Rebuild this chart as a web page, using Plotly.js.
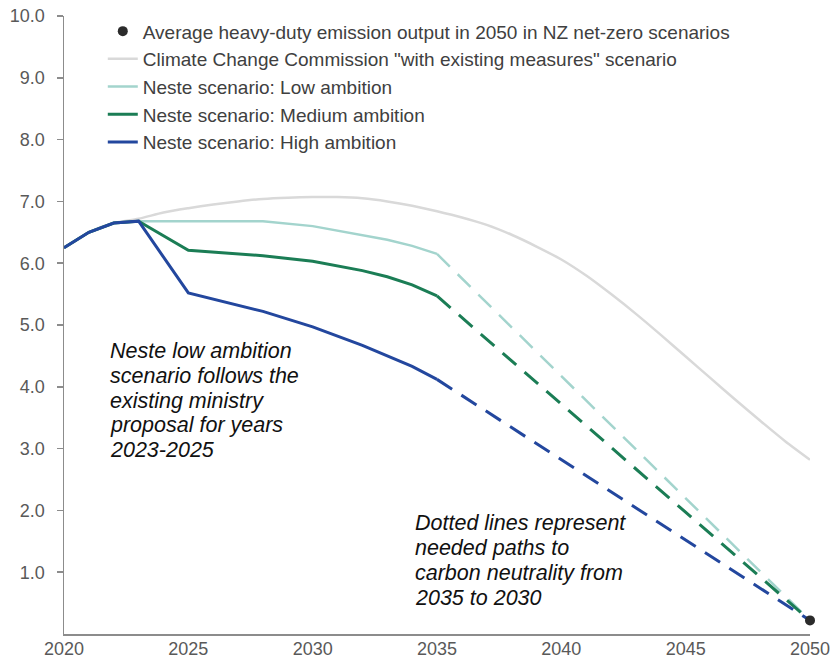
<!DOCTYPE html>
<html>
<head>
<meta charset="utf-8">
<script src="https://cdn.plot.ly/plotly-3.0.1.min.js"></script>
<style>html,body{margin:0;padding:0;background:#fff;}#chart{width:831px;height:662px;}</style>
</head>
<body>
<div id="chart"></div>
<script>
// Climate Change Commission "with existing measures"
const cccYears = [2020, 2021, 2022, 2023, 2024, 2025, 2026, 2027, 2028, 2029, 2030, 2031, 2032, 2033, 2034, 2035, 2036, 2037, 2038, 2039, 2040, 2041, 2042, 2043, 2044, 2045, 2046, 2047, 2048, 2049, 2050];
const cccVals  = [6.25, 6.5, 6.65, 6.72, 6.82, 6.89, 6.95, 7.0, 7.04, 7.06, 7.07, 7.07, 7.05, 7.0, 6.93, 6.84, 6.74, 6.62, 6.46, 6.27, 6.06, 5.8, 5.5, 5.18, 4.84, 4.49, 4.14, 3.79, 3.45, 3.12, 2.82];

// Neste scenarios (solid part)
const lowYears = [2020, 2021, 2022, 2023, 2025, 2028, 2030, 2033, 2034, 2035];
const lowVals  = [6.25, 6.5, 6.65, 6.68, 6.68, 6.68, 6.6, 6.38, 6.28, 6.15];
const medYears = [2020, 2021, 2022, 2023, 2025, 2028, 2030, 2032, 2033, 2034, 2035];
const medVals  = [6.25, 6.5, 6.65, 6.68, 6.21, 6.12, 6.03, 5.88, 5.78, 5.65, 5.47];
const highYears = [2020, 2021, 2022, 2023, 2025, 2028, 2030, 2032, 2034, 2035];
const highVals  = [6.25, 6.5, 6.65, 6.68, 5.52, 5.22, 4.97, 4.67, 4.33, 4.12];

// Needed paths (dashed)
const pathYears = [2035, 2050];
const lowPath  = [6.15, 0.22];
const medPath  = [5.47, 0.22];
const highPath = [4.12, 0.22];

// Target point
const targetYear = [2050];
const targetVal = [0.22];

const names = [
  'Average heavy-duty emission output in 2050 in NZ net-zero scenarios',
  'Climate Change Commission "with existing measures" scenario',
  'Neste scenario: Low ambition',
  'Neste scenario: Medium ambition',
  'Neste scenario: High ambition'
];
const note1 = ['Neste low ambition', 'scenario follows the', 'existing ministry', 'proposal for years', '2023-2025'];
const note2 = ['Dotted lines represent', 'needed paths to', 'carbon neutrality from', '2035 to 2030'];

const xTicks = [2020, 2025, 2030, 2035, 2040, 2045, 2050];
const yTicks = [1, 2, 3, 4, 5, 6, 7, 8, 9, 10];

const cGray = '#d9d9d9', cLow = '#a3d4cd', cMed = '#1b7d55', cHigh = '#23479e';
const dash = '18px,11px';

const traces = [
  {x: cccYears, y: cccVals, mode: 'lines', name: names[1], legendrank: 2, legendgroup: 'g2',
   line: {color: cGray, width: 2.5, shape: 'spline', smoothing: 0.8}},
  {x: lowYears, y: lowVals, mode: 'lines', name: names[2], legendrank: 3, legendgroup: 'g3',
   line: {color: cLow, width: 2.5}},
  {x: pathYears, y: lowPath, mode: 'lines', showlegend: false, legendgroup: 'g3',
   line: {color: cLow, width: 2.5, dash: dash}},
  {x: medYears, y: medVals, mode: 'lines', name: names[3], legendrank: 4, legendgroup: 'g4',
   line: {color: cMed, width: 3}},
  {x: pathYears, y: medPath, mode: 'lines', showlegend: false, legendgroup: 'g4',
   line: {color: cMed, width: 3, dash: dash}},
  {x: highYears, y: highVals, mode: 'lines', name: names[4], legendrank: 5, legendgroup: 'g5',
   line: {color: cHigh, width: 3}},
  {x: pathYears, y: highPath, mode: 'lines', showlegend: false, legendgroup: 'g5',
   line: {color: cHigh, width: 3, dash: dash}},
  {x: targetYear, y: targetVal, mode: 'markers', name: names[0], legendrank: 1, legendgroup: 'g1',
   cliponaxis: false, marker: {color: '#2b2b2b', size: 10}}
];

// plot area in pixels: x 64..810, y 16..634
const pyToPaper = py => (634 - py) / 618;
const pxToPaper = px => (px - 64) / 746;
const annFont = {size: 21.5, color: '#111', family: 'Liberation Sans, Arial, sans-serif'};
const annotations = [];
note1.forEach((t, i) => annotations.push({xref: 'paper', yref: 'paper', x: pxToPaper(108), y: pyToPaper(351 + i * 24.8),
  xanchor: 'left', yanchor: 'middle', align: 'left', showarrow: false, font: annFont, text: '<i>' + t + '</i>'}));
note2.forEach((t, i) => annotations.push({xref: 'paper', yref: 'paper', x: pxToPaper(413), y: pyToPaper(523 + i * 25),
  xanchor: 'left', yanchor: 'middle', align: 'left', showarrow: false, font: annFont, text: '<i>' + t + '</i>'}));

const layout = {
  width: 831, height: 662,
  margin: {l: 64, r: 21, t: 16, b: 28, pad: 0},
  paper_bgcolor: '#fff', plot_bgcolor: '#fff',
  font: {family: 'Liberation Sans, Arial, sans-serif', size: 18, color: '#595959'},
  showlegend: true,
  legend: {x: 0.052, y: 1.006, xanchor: 'left', yanchor: 'top', bgcolor: 'rgba(0,0,0,0)',
           font: {size: 19, color: '#404040'}, tracegroupgap: 0, itemwidth: 30},
  xaxis: {range: [2020, 2050], tickvals: xTicks, ticktext: xTicks.map(String),
          showgrid: false, zeroline: false, showline: true, linecolor: '#8c8c8c', linewidth: 2,
          ticks: '', ticklabelstandoff: -3, automargin: false, tickfont: {size: 18, color: '#595959'}, fixedrange: true},
  yaxis: {range: [0, 10], tickvals: yTicks,
          tickformat: '.1f', showgrid: false, zeroline: false, showline: true,
          linecolor: '#8c8c8c', linewidth: 1.5, ticks: 'outside', ticklen: 6, tickcolor: '#8c8c8c',
          tickwidth: 1.5, ticklabelstandoff: 8, automargin: false,
          tickfont: {size: 18, color: '#595959'}, fixedrange: true},
  annotations: annotations
};

Plotly.newPlot('chart', traces, layout, {displayModeBar: false, staticPlot: true});
</script>
</body>
</html>
